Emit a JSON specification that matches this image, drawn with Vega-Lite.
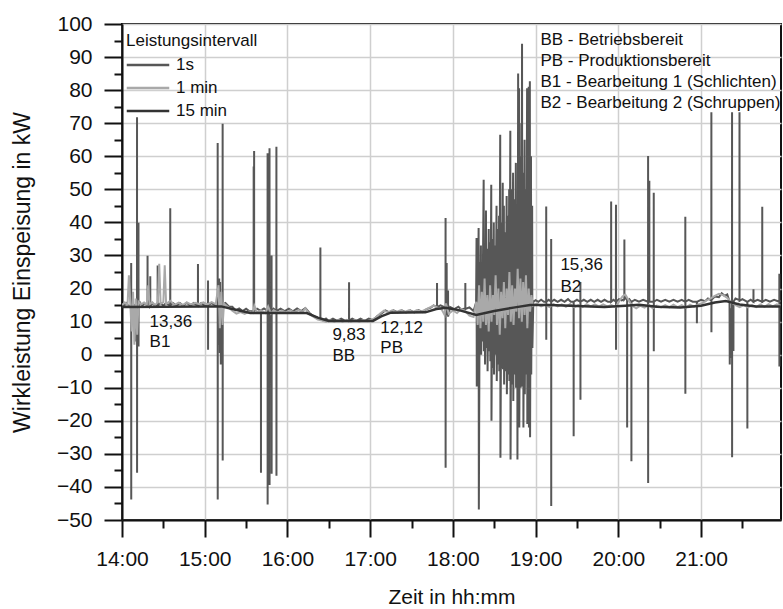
{
  "$schema": "https://vega.github.io/schema/vega-lite/v6.json",
  "width": 659,
  "height": 496,
  "autosize": {"type": "none"},
  "padding": {"left": 122, "top": 24, "right": 2, "bottom": 89},
  "background": "white",
  "config": {
    "font": "Liberation Sans",
    "view": {"stroke": "#111111", "strokeWidth": 2}
  },
  "resolve": {"axis": {"x": "independent", "y": "independent"}},
  "layer": [
    {
      "data": {
        "format": {"parse": {"t": "utc:'%H:%M:%S'"}},
        "values": [
          {"t":"14:00:00","v":15.2},{"t":"14:01:30","v":14.7},{"t":"14:03:00","v":15.6},{"t":"14:04:30","v":14.8},
          {"t":"14:06:38","v":14.8},{"t":"14:06:40","v":27.7},{"t":"14:06:42","v":-43.8},{"t":"14:06:44","v":15.0},
          {"t":"14:07:40","v":15.8},{"t":"14:08:30","v":14.7},{"t":"14:09:20","v":14.8},{"t":"14:09:22","v":4.0},{"t":"14:09:24","v":15.0},
          {"t":"14:10:52","v":14.8},{"t":"14:10:54","v":71.8},{"t":"14:10:56","v":-35.7},{"t":"14:10:58","v":15.2},
          {"t":"14:11:56","v":15.0},{"t":"14:11:58","v":39.9},{"t":"14:12:00","v":2.5},{"t":"14:12:02","v":14.8},
          {"t":"14:13:10","v":15.7},{"t":"14:14:40","v":14.8},{"t":"14:16:10","v":15.6},
          {"t":"14:18:30","v":14.8},{"t":"14:18:32","v":29.9},{"t":"14:18:34","v":14.9},{"t":"14:19:30","v":15.8},
          {"t":"14:20:28","v":14.8},{"t":"14:20:30","v":23.7},{"t":"14:20:32","v":14.7},{"t":"14:22:00","v":15.6},{"t":"14:24:00","v":14.8},
          {"t":"14:25:50","v":14.9},{"t":"14:25:52","v":27.0},{"t":"14:25:54","v":14.8},{"t":"14:28:00","v":15.6},{"t":"14:30:00","v":14.8},{"t":"14:32:00","v":15.6},
          {"t":"14:34:58","v":14.8},{"t":"14:35:00","v":44.3},{"t":"14:35:02","v":14.9},{"t":"14:37:00","v":15.6},{"t":"14:39:30","v":14.8},
          {"t":"14:42:00","v":15.6},{"t":"14:44:30","v":14.8},{"t":"14:47:00","v":15.7},{"t":"14:49:30","v":14.8},{"t":"14:52:00","v":15.6},
          {"t":"14:55:04","v":14.8},{"t":"14:55:06","v":27.4},{"t":"14:55:08","v":14.9},{"t":"14:57:30","v":15.6},{"t":"15:00:00","v":14.8},
          {"t":"15:02:22","v":14.8},{"t":"15:02:24","v":22.4},{"t":"15:02:26","v":1.5},{"t":"15:02:28","v":15.0},{"t":"15:05:00","v":15.6},{"t":"15:07:30","v":14.9},
          {"t":"15:09:22","v":14.8},{"t":"15:09:24","v":64.0},{"t":"15:09:26","v":-43.8},{"t":"15:09:28","v":15.0},
          {"t":"15:10:30","v":23.0},{"t":"15:10:40","v":3.0},{"t":"15:10:50","v":20.0},{"t":"15:11:00","v":0.5},{"t":"15:11:10","v":22.0},{"t":"15:11:20","v":5.0},{"t":"15:11:30","v":18.0},{"t":"15:11:40","v":-3.0},{"t":"15:11:50","v":15.0},
          {"t":"15:12:58","v":14.8},{"t":"15:13:00","v":69.8},{"t":"15:13:02","v":-32.0},{"t":"15:13:04","v":15.2},
          {"t":"15:15:00","v":15.6},{"t":"15:17:30","v":14.6},{"t":"15:20:00","v":14.5},{"t":"15:22:30","v":13.4},{"t":"15:25:00","v":14.0},{"t":"15:27:30","v":13.2},{"t":"15:30:00","v":13.9},{"t":"15:32:30","v":13.1},
          {"t":"15:35:28","v":13.2},{"t":"15:35:30","v":56.9},{"t":"15:35:34","v":13.4},{"t":"15:35:48","v":13.2},{"t":"15:35:50","v":61.6},{"t":"15:35:52","v":13.2},
          {"t":"15:38:00","v":13.9},{"t":"15:40:46","v":13.2},{"t":"15:40:48","v":-35.7},{"t":"15:40:50","v":13.4},{"t":"15:43:00","v":14.0},
          {"t":"15:45:34","v":13.2},{"t":"15:45:36","v":60.9},{"t":"15:45:38","v":-45.3},{"t":"15:45:40","v":13.2},
          {"t":"15:46:58","v":13.2},{"t":"15:47:00","v":62.4},{"t":"15:47:02","v":-39.4},{"t":"15:47:04","v":13.4},
          {"t":"15:48:28","v":13.2},{"t":"15:48:30","v":30.0},{"t":"15:48:32","v":-36.0},{"t":"15:48:34","v":13.0},{"t":"15:50:00","v":13.9},
          {"t":"15:51:58","v":13.2},{"t":"15:52:00","v":62.9},{"t":"15:52:02","v":-36.6},{"t":"15:52:04","v":13.2},
          {"t":"15:55:00","v":13.9},{"t":"15:58:00","v":13.2},{"t":"16:01:00","v":13.9},{"t":"16:04:00","v":13.1},{"t":"16:07:00","v":14.0},{"t":"16:10:00","v":13.2},{"t":"16:13:00","v":14.1},
          {"t":"16:16:00","v":12.6},{"t":"16:19:00","v":11.6},{"t":"16:22:00","v":11.2},{"t":"16:23:52","v":11.0},{"t":"16:23:54","v":32.4},{"t":"16:23:56","v":10.8},
          {"t":"16:26:00","v":10.3},{"t":"16:28:00","v":10.9},{"t":"16:30:00","v":10.2},{"t":"16:33:00","v":10.9},{"t":"16:36:00","v":10.2},{"t":"16:39:00","v":10.9},{"t":"16:42:00","v":10.2},
          {"t":"16:44:40","v":10.3},{"t":"16:44:42","v":21.9},{"t":"16:44:44","v":10.3},{"t":"16:47:00","v":10.9},{"t":"16:50:00","v":10.2},{"t":"16:53:00","v":10.9},{"t":"16:56:00","v":10.2},{"t":"16:59:00","v":10.9},
          {"t":"17:02:00","v":10.4},{"t":"17:05:00","v":11.6},{"t":"17:08:00","v":12.4},{"t":"17:11:00","v":13.4},{"t":"17:14:00","v":12.8},{"t":"17:17:00","v":13.4},{"t":"17:20:00","v":12.8},{"t":"17:23:00","v":13.4},{"t":"17:26:00","v":12.8},{"t":"17:29:00","v":13.4},{"t":"17:32:00","v":12.8},{"t":"17:35:00","v":13.5},{"t":"17:38:00","v":12.9},{"t":"17:41:00","v":13.8},{"t":"17:44:00","v":14.2},{"t":"17:46:00","v":14.9},
          {"t":"17:48:28","v":14.4},{"t":"17:48:30","v":21.7},{"t":"17:48:32","v":14.4},{"t":"17:51:00","v":14.9},
          {"t":"17:54:40","v":14.2},{"t":"17:54:42","v":41.3},{"t":"17:54:44","v":-34.2},{"t":"17:54:46","v":14.4},
          {"t":"17:55:28","v":14.2},{"t":"17:55:30","v":27.7},{"t":"17:55:32","v":12.0},{"t":"17:56:28","v":13.5},{"t":"17:56:30","v":19.4},{"t":"17:56:32","v":11.5},
          {"t":"17:58:00","v":14.4},{"t":"18:01:00","v":13.8},{"t":"18:04:00","v":14.5},{"t":"18:06:00","v":13.7},{"t":"18:09:00","v":14.0},{"t":"18:09:02","v":21.7},{"t":"18:09:04","v":13.8},{"t":"18:12:00","v":14.3},{"t":"18:15:00","v":13.2},{"t":"18:16:50","v":15.8},
          {"t":"18:17:10","v":35.3},{"t":"18:17:20","v":-9.6},{"t":"18:17:50","v":30.0},{"t":"18:18:00","v":2.0},{"t":"18:18:40","v":38.3},{"t":"18:18:50","v":-46.8},
          {"t":"18:19:30","v":28.0},{"t":"18:19:40","v":3.0},{"t":"18:20:20","v":33.0},{"t":"18:20:30","v":0.0},{"t":"18:21:10","v":25.0},{"t":"18:21:20","v":4.0},
          {"t":"18:22:20","v":52.9},{"t":"18:22:30","v":1.0},{"t":"18:23:10","v":30.0},{"t":"18:23:20","v":-3.0},{"t":"18:24:00","v":43.6},{"t":"18:24:10","v":2.0},
          {"t":"18:25:00","v":32.0},{"t":"18:25:10","v":-5.0},{"t":"18:26:00","v":38.0},{"t":"18:26:10","v":1.0},{"t":"18:27:00","v":34.0},{"t":"18:27:10","v":-2.0},
          {"t":"18:27:50","v":51.4},{"t":"18:28:00","v":-20.0},{"t":"18:28:40","v":35.0},{"t":"18:28:50","v":-4.0},{"t":"18:29:40","v":40.0},{"t":"18:29:50","v":-6.0},
          {"t":"18:30:40","v":33.0},{"t":"18:30:50","v":0.0},{"t":"18:31:40","v":45.0},{"t":"18:31:50","v":-8.0},{"t":"18:32:40","v":38.0},{"t":"18:32:50","v":-3.0},
          {"t":"18:33:30","v":42.0},{"t":"18:33:40","v":-5.0},{"t":"18:34:20","v":66.5},{"t":"18:34:30","v":-31.2},{"t":"18:35:20","v":40.0},{"t":"18:35:30","v":-4.0},
          {"t":"18:36:10","v":52.0},{"t":"18:36:20","v":-4.4},{"t":"18:37:00","v":45.0},{"t":"18:37:10","v":-9.0},{"t":"18:38:00","v":37.0},{"t":"18:38:10","v":-5.0},
          {"t":"18:39:00","v":48.0},{"t":"18:39:10","v":-12.0},{"t":"18:40:00","v":42.0},{"t":"18:40:10","v":-6.0},{"t":"18:40:50","v":50.0},{"t":"18:41:00","v":-8.0},
          {"t":"18:41:40","v":67.7},{"t":"18:41:50","v":-31.7},{"t":"18:42:40","v":50.0},{"t":"18:42:50","v":-9.0},{"t":"18:43:40","v":55.0},{"t":"18:43:50","v":-14.0},
          {"t":"18:44:40","v":47.0},{"t":"18:44:50","v":-6.0},{"t":"18:45:40","v":58.0},{"t":"18:45:50","v":-10.0},{"t":"18:46:40","v":45.0},{"t":"18:46:50","v":-31.7},
          {"t":"18:47:20","v":85.0},{"t":"18:47:30","v":-8.0},{"t":"18:48:00","v":80.6},{"t":"18:48:10","v":-22.0},{"t":"18:49:00","v":60.0},{"t":"18:49:10","v":-10.0},
          {"t":"18:49:40","v":70.0},{"t":"18:49:50","v":-4.0},{"t":"18:50:10","v":94.0},{"t":"18:50:20","v":-9.6},{"t":"18:51:00","v":55.0},{"t":"18:51:10","v":-22.0},
          {"t":"18:52:00","v":65.0},{"t":"18:52:10","v":-12.0},{"t":"18:53:00","v":50.0},{"t":"18:53:10","v":-6.0},{"t":"18:53:50","v":80.6},{"t":"18:54:00","v":-21.0},
          {"t":"18:54:30","v":58.0},{"t":"18:54:40","v":-9.0},{"t":"18:55:00","v":81.0},{"t":"18:55:10","v":-22.0},{"t":"18:55:50","v":82.7},{"t":"18:56:00","v":-25.0},
          {"t":"18:56:40","v":60.0},{"t":"18:56:50","v":-6.0},{"t":"18:57:30","v":45.0},{"t":"18:57:40","v":2.0},{"t":"18:58:20","v":16.0},
          {"t":"19:00:00","v":16.5},{"t":"19:02:00","v":16.0},{"t":"19:04:00","v":16.6},{"t":"19:06:00","v":16.0},
          {"t":"19:07:40","v":16.0},{"t":"19:07:42","v":44.8},{"t":"19:07:44","v":4.5},{"t":"19:07:46","v":16.0},{"t":"19:09:30","v":16.6},
          {"t":"19:11:16","v":16.0},{"t":"19:11:18","v":35.0},{"t":"19:11:20","v":-45.8},{"t":"19:11:22","v":16.0},
          {"t":"19:13:30","v":16.6},{"t":"19:16:00","v":16.0},{"t":"19:18:30","v":16.6},{"t":"19:21:00","v":16.0},{"t":"19:23:30","v":16.8},{"t":"19:25:30","v":16.0},
          {"t":"19:27:34","v":16.0},{"t":"19:27:36","v":-24.7},{"t":"19:27:38","v":16.0},{"t":"19:30:00","v":16.6},
          {"t":"19:32:28","v":16.0},{"t":"19:32:30","v":22.0},{"t":"19:32:32","v":-13.6},{"t":"19:32:34","v":16.0},
          {"t":"19:35:00","v":16.6},{"t":"19:37:30","v":16.0},{"t":"19:40:00","v":16.6},{"t":"19:42:30","v":16.0},{"t":"19:45:00","v":16.6},{"t":"19:47:30","v":16.0},{"t":"19:50:00","v":16.6},{"t":"19:52:30","v":16.0},
          {"t":"19:54:46","v":16.0},{"t":"19:54:48","v":46.3},{"t":"19:54:50","v":16.0},{"t":"19:56:30","v":16.6},
          {"t":"19:58:16","v":16.0},{"t":"19:58:18","v":45.3},{"t":"19:58:20","v":1.5},{"t":"19:58:22","v":16.0},
          {"t":"20:00:30","v":16.8},{"t":"20:02:30","v":16.4},{"t":"20:04:22","v":16.8},{"t":"20:04:24","v":34.8},{"t":"20:04:26","v":16.8},{"t":"20:05:30","v":17.4},
          {"t":"20:06:22","v":16.4},{"t":"20:06:24","v":-22.0},{"t":"20:06:26","v":16.2},{"t":"20:08:00","v":16.8},
          {"t":"20:09:28","v":16.0},{"t":"20:09:30","v":-32.2},{"t":"20:09:32","v":16.0},{"t":"20:12:00","v":16.6},{"t":"20:15:00","v":16.0},{"t":"20:18:00","v":16.6},
          {"t":"20:21:34","v":16.0},{"t":"20:21:36","v":60.1},{"t":"20:21:38","v":-38.8},{"t":"20:21:40","v":16.0},
          {"t":"20:22:28","v":16.0},{"t":"20:22:30","v":52.6},{"t":"20:22:32","v":16.0},
          {"t":"20:25:40","v":16.0},{"t":"20:25:42","v":49.0},{"t":"20:25:44","v":1.0},{"t":"20:25:46","v":16.0},
          {"t":"20:28:00","v":16.6},{"t":"20:31:00","v":16.0},{"t":"20:34:00","v":16.6},{"t":"20:37:00","v":16.0},{"t":"20:40:00","v":16.6},{"t":"20:43:00","v":16.0},{"t":"20:46:00","v":16.6},
          {"t":"20:48:34","v":16.0},{"t":"20:48:36","v":41.7},{"t":"20:48:38","v":-11.8},{"t":"20:48:40","v":16.0},
          {"t":"20:51:00","v":16.6},{"t":"20:54:00","v":16.0},{"t":"20:56:58","v":16.0},{"t":"20:57:00","v":9.5},{"t":"20:57:02","v":16.0},
          {"t":"21:00:00","v":16.6},{"t":"21:03:00","v":16.2},{"t":"21:05:00","v":17.0},
          {"t":"21:07:28","v":16.4},{"t":"21:07:30","v":73.3},{"t":"21:07:32","v":6.8},{"t":"21:07:34","v":16.6},
          {"t":"21:10:00","v":17.6},{"t":"21:13:00","v":17.4},{"t":"21:15:00","v":18.6},{"t":"21:17:00","v":17.8},{"t":"21:19:00","v":18.2},
          {"t":"21:20:40","v":16.0},{"t":"21:20:50","v":-3.0},{"t":"21:21:00","v":14.0},{"t":"21:21:10","v":-1.0},{"t":"21:21:20","v":12.0},{"t":"21:21:30","v":2.0},
          {"t":"21:22:28","v":16.0},{"t":"21:22:30","v":73.3},{"t":"21:22:32","v":-31.0},{"t":"21:22:34","v":16.0},
          {"t":"21:23:28","v":16.0},{"t":"21:23:30","v":1.1},{"t":"21:23:32","v":16.0},{"t":"21:25:00","v":17.0},
          {"t":"21:27:52","v":16.5},{"t":"21:27:54","v":73.3},{"t":"21:27:56","v":16.3},{"t":"21:30:00","v":16.8},
          {"t":"21:33:34","v":16.0},{"t":"21:33:36","v":-22.3},{"t":"21:33:38","v":16.0},{"t":"21:36:00","v":16.6},
          {"t":"21:38:00","v":16.0},{"t":"21:38:02","v":19.8},{"t":"21:38:04","v":16.0},{"t":"21:41:00","v":16.6},
          {"t":"21:44:22","v":16.0},{"t":"21:44:24","v":44.7},{"t":"21:44:26","v":16.0},{"t":"21:47:00","v":16.6},{"t":"21:50:00","v":16.0},{"t":"21:53:00","v":16.6},
          {"t":"21:56:46","v":16.0},{"t":"21:56:48","v":24.5},{"t":"21:56:50","v":-3.6},{"t":"21:56:52","v":16.0},{"t":"21:58:00","v":16.4}
        ]
      },
      "mark": {"type": "line", "strokeWidth": 2, "clip": true},
      "encoding": {
        "x": {
          "field": "t", "type": "temporal",
          "scale": {"type": "utc", "nice": false, "domain": [{"year": 1900, "month": 1, "date": 1, "hours": 14, "minutes": 0, "utc": true}, {"year": 1900, "month": 1, "date": 1, "hours": 21, "minutes": 58, "utc": true}]},
          "axis": {
            "orient": "bottom",
            "values": [
              {"year": 1900, "month": 1, "date": 1, "hours": 14, "utc": true},
              {"year": 1900, "month": 1, "date": 1, "hours": 15, "utc": true},
              {"year": 1900, "month": 1, "date": 1, "hours": 16, "utc": true},
              {"year": 1900, "month": 1, "date": 1, "hours": 17, "utc": true},
              {"year": 1900, "month": 1, "date": 1, "hours": 18, "utc": true},
              {"year": 1900, "month": 1, "date": 1, "hours": 19, "utc": true},
              {"year": 1900, "month": 1, "date": 1, "hours": 20, "utc": true},
              {"year": 1900, "month": 1, "date": 1, "hours": 21, "utc": true}
            ],
            "format": "%H:%M",
            "title": "Zeit in hh:mm",
            "titleFontSize": 21, "titleFontWeight": "normal", "titleColor": "#111111", "titlePadding": 17,
            "labelFontSize": 21, "labelColor": "#111111", "labelPadding": 11, "labelFlush": false,
            "tickSize": 17, "tickWidth": 2, "tickColor": "#111111",
            "domainColor": "#111111", "domainWidth": 2,
            "grid": true, "gridColor": "#cfcfcf", "gridWidth": 1.5
          }
        },
        "y": {
          "field": "v", "type": "quantitative",
          "scale": {"domain": [-50, 100], "nice": false, "zero": false},
          "axis": {
            "orient": "left",
            "values": [-50, -40, -30, -20, -10, 0, 10, 20, 30, 40, 50, 60, 70, 80, 90, 100],
            "title": "Wirkleistung Einspeisung in kW",
            "titleFontSize": 23, "titleFontWeight": "normal", "titleColor": "#111111", "titlePadding": 22,
            "labelFontSize": 21, "labelColor": "#111111", "labelPadding": 12,
            "tickSize": 18, "tickWidth": 2, "tickColor": "#111111",
            "domainColor": "#111111", "domainWidth": 2,
            "grid": true, "gridColor": "#cfcfcf", "gridWidth": 1.5
          }
        },
        "color": {
          "datum": "1s", "type": "nominal",
          "scale": {"domain": ["1s", "1 min", "15 min"], "range": ["#575757", "#a9a9a9", "#333333"]},
          "legend": {
            "orient": "none", "legendX": 4, "legendY": 9, "direction": "vertical",
            "padding": 0, "offset": 0,
            "title": "Leistungsintervall",
            "titleFontSize": 17, "titleFontWeight": "normal", "titleColor": "#111111", "titlePadding": 5,
            "labelFontSize": 17, "labelColor": "#111111", "labelOffset": 18,
            "symbolType": "M-2.5,0H2.5", "symbolSize": 289, "symbolStrokeWidth": 2.5, "symbolOffset": 12,
            "rowPadding": 5
          }
        }
      }
    },
    {
      "data": {
        "format": {"parse": {"t": "utc:'%H:%M:%S'"}},
        "values": [
          {"t":"14:00:00","v":15.0},{"t":"14:02:00","v":15.8},{"t":"14:04:00","v":14.9},{"t":"14:05:00","v":24.0},{"t":"14:06:00","v":15.5},{"t":"14:07:00","v":7.0},{"t":"14:08:00","v":19.0},{"t":"14:09:00","v":3.0},{"t":"14:10:00","v":17.0},{"t":"14:11:00","v":6.0},{"t":"14:12:00","v":16.0},
          {"t":"14:14:00","v":15.2},{"t":"14:16:00","v":15.8},{"t":"14:18:00","v":15.1},{"t":"14:19:00","v":21.0},{"t":"14:20:00","v":15.2},{"t":"14:22:00","v":15.8},{"t":"14:24:00","v":15.0},{"t":"14:26:00","v":15.9},{"t":"14:27:00","v":27.5},{"t":"14:28:00","v":15.4},{"t":"14:30:00","v":15.9},{"t":"14:31:00","v":27.0},{"t":"14:32:00","v":15.3},
          {"t":"14:35:00","v":16.3},{"t":"14:38:00","v":15.0},{"t":"14:41:00","v":15.7},{"t":"14:44:00","v":15.0},{"t":"14:47:00","v":15.8},{"t":"14:50:00","v":15.2},{"t":"14:53:00","v":15.7},{"t":"14:56:00","v":15.3},{"t":"14:59:00","v":15.8},{"t":"15:02:00","v":15.2},{"t":"15:05:00","v":15.9},{"t":"15:08:00","v":15.3},
          {"t":"15:10:00","v":21.0},{"t":"15:11:00","v":8.0},{"t":"15:12:00","v":19.0},{"t":"15:13:00","v":9.0},{"t":"15:14:00","v":15.4},{"t":"15:17:00","v":14.4},{"t":"15:20:00","v":13.3},{"t":"15:23:00","v":12.4},{"t":"15:26:00","v":12.9},{"t":"15:29:00","v":12.3},{"t":"15:32:00","v":13.0},{"t":"15:35:00","v":12.6},{"t":"15:36:00","v":14.8},{"t":"15:38:00","v":12.8},
          {"t":"15:41:00","v":13.4},{"t":"15:44:00","v":12.6},{"t":"15:46:00","v":14.6},{"t":"15:48:00","v":12.4},{"t":"15:50:00","v":13.4},{"t":"15:53:00","v":12.7},{"t":"15:56:00","v":13.3},{"t":"15:59:00","v":12.7},{"t":"16:02:00","v":13.4},{"t":"16:05:00","v":12.8},{"t":"16:08:00","v":13.5},{"t":"16:11:00","v":13.0},{"t":"16:13:00","v":14.0},
          {"t":"16:16:00","v":12.2},{"t":"16:19:00","v":11.4},{"t":"16:22:00","v":10.6},{"t":"16:25:00","v":10.3},{"t":"16:28:00","v":9.9},{"t":"16:31:00","v":10.4},{"t":"16:34:00","v":10.0},{"t":"16:37:00","v":10.5},{"t":"16:40:00","v":10.0},{"t":"16:43:00","v":10.5},{"t":"16:46:00","v":10.0},{"t":"16:49:00","v":10.5},{"t":"16:52:00","v":10.0},{"t":"16:55:00","v":10.5},{"t":"16:58:00","v":10.1},
          {"t":"17:01:00","v":10.6},{"t":"17:04:00","v":11.2},{"t":"17:07:00","v":12.4},{"t":"17:10:00","v":13.3},{"t":"17:13:00","v":12.8},{"t":"17:16:00","v":13.4},{"t":"17:19:00","v":12.9},{"t":"17:22:00","v":13.4},{"t":"17:25:00","v":12.9},{"t":"17:28:00","v":13.4},{"t":"17:31:00","v":12.9},{"t":"17:34:00","v":13.5},{"t":"17:37:00","v":13.0},{"t":"17:40:00","v":13.6},
          {"t":"17:43:00","v":14.2},{"t":"17:46:00","v":14.8},{"t":"17:49:00","v":14.2},{"t":"17:52:00","v":13.6},{"t":"17:54:00","v":12.0},{"t":"17:55:00","v":15.5},{"t":"17:57:00","v":12.4},{"t":"18:00:00","v":13.4},{"t":"18:03:00","v":12.6},{"t":"18:06:00","v":13.8},{"t":"18:09:00","v":13.2},{"t":"18:12:00","v":11.8},{"t":"18:15:00","v":11.4},
          {"t":"18:17:00","v":16.0},{"t":"18:18:00","v":9.0},{"t":"18:19:00","v":21.0},{"t":"18:20:00","v":8.0},{"t":"18:21:00","v":19.0},{"t":"18:22:00","v":10.0},{"t":"18:23:00","v":23.0},{"t":"18:24:00","v":9.0},{"t":"18:25:00","v":18.0},{"t":"18:26:00","v":7.0},{"t":"18:27:00","v":21.0},{"t":"18:28:00","v":10.0},{"t":"18:29:00","v":18.0},{"t":"18:30:00","v":12.0},
          {"t":"18:31:00","v":24.0},{"t":"18:32:00","v":9.0},{"t":"18:33:00","v":20.0},{"t":"18:34:00","v":6.0},{"t":"18:35:00","v":19.0},{"t":"18:36:00","v":11.0},{"t":"18:37:00","v":22.0},{"t":"18:38:00","v":8.0},{"t":"18:39:00","v":20.0},{"t":"18:40:00","v":12.0},{"t":"18:41:00","v":25.0},{"t":"18:42:00","v":10.0},{"t":"18:43:00","v":21.0},{"t":"18:44:00","v":9.0},
          {"t":"18:45:00","v":20.0},{"t":"18:46:00","v":13.0},{"t":"18:47:00","v":26.0},{"t":"18:48:00","v":11.0},{"t":"18:49:00","v":23.0},{"t":"18:50:00","v":10.0},{"t":"18:51:00","v":22.0},{"t":"18:52:00","v":12.0},{"t":"18:53:00","v":24.0},{"t":"18:54:00","v":8.0},{"t":"18:55:00","v":20.0},{"t":"18:56:00","v":13.0},{"t":"18:57:00","v":18.0},{"t":"18:58:00","v":14.8},
          {"t":"19:01:00","v":15.4},{"t":"19:04:00","v":14.6},{"t":"19:07:00","v":15.2},{"t":"19:10:00","v":14.4},{"t":"19:13:00","v":15.3},{"t":"19:16:00","v":14.6},{"t":"19:19:00","v":15.2},{"t":"19:22:00","v":14.5},{"t":"19:25:00","v":15.3},{"t":"19:28:00","v":14.3},{"t":"19:31:00","v":15.0},{"t":"19:34:00","v":14.4},{"t":"19:37:00","v":15.3},{"t":"19:40:00","v":14.6},
          {"t":"19:43:00","v":15.2},{"t":"19:46:00","v":14.5},{"t":"19:49:00","v":15.2},{"t":"19:52:00","v":14.6},{"t":"19:55:00","v":15.0},{"t":"19:58:00","v":14.4},{"t":"20:01:00","v":16.4},{"t":"20:03:00","v":17.6},{"t":"20:05:00","v":18.2},{"t":"20:07:00","v":16.8},{"t":"20:10:00","v":14.8},{"t":"20:13:00","v":14.0},{"t":"20:16:00","v":14.8},{"t":"20:19:00","v":14.2},
          {"t":"20:22:00","v":15.0},{"t":"20:25:00","v":14.0},{"t":"20:28:00","v":14.8},{"t":"20:31:00","v":14.3},{"t":"20:34:00","v":15.0},{"t":"20:37:00","v":14.3},{"t":"20:40:00","v":15.1},{"t":"20:43:00","v":14.4},{"t":"20:46:00","v":15.0},{"t":"20:49:00","v":14.2},{"t":"20:52:00","v":15.1},{"t":"20:55:00","v":14.5},{"t":"20:58:00","v":15.2},
          {"t":"21:01:00","v":15.6},{"t":"21:04:00","v":16.4},{"t":"21:07:00","v":17.0},{"t":"21:10:00","v":17.8},{"t":"21:13:00","v":18.4},{"t":"21:16:00","v":18.0},{"t":"21:19:00","v":17.2},{"t":"21:22:00","v":15.8},{"t":"21:25:00","v":15.0},{"t":"21:28:00","v":14.4},{"t":"21:31:00","v":15.0},{"t":"21:34:00","v":14.3},{"t":"21:37:00","v":15.0},
          {"t":"21:40:00","v":14.4},{"t":"21:43:00","v":15.2},{"t":"21:46:00","v":14.5},{"t":"21:49:00","v":15.3},{"t":"21:52:00","v":14.6},{"t":"21:55:00","v":15.2},{"t":"21:58:00","v":14.8}
        ]
      },
      "mark": {"type": "line", "strokeWidth": 2, "clip": true},
      "encoding": {
        "x": {"field": "t", "type": "temporal", "axis": null},
        "y": {"field": "v", "type": "quantitative", "axis": null},
        "color": {"datum": "1 min", "type": "nominal"}
      }
    },
    {
      "data": {
        "format": {"parse": {"t": "utc:'%H:%M:%S'"}},
        "values": [
          {"t":"14:00:00","v":14.4},{"t":"14:30:00","v":14.5},{"t":"15:00:00","v":14.6},{"t":"15:12:00","v":14.6},{"t":"15:20:00","v":13.8},{"t":"15:33:00","v":12.6},{"t":"16:14:00","v":12.6},{"t":"16:22:00","v":11.2},{"t":"16:30:00","v":10.2},
          {"t":"17:02:00","v":10.2},{"t":"17:08:00","v":11.6},{"t":"17:15:00","v":12.7},{"t":"17:40:00","v":12.8},{"t":"17:48:00","v":13.8},{"t":"17:55:00","v":14.2},{"t":"18:05:00","v":13.4},{"t":"18:17:00","v":12.0},{"t":"18:30:00","v":13.2},{"t":"18:45:00","v":14.3},{"t":"18:56:00","v":15.0},
          {"t":"19:10:00","v":15.0},{"t":"19:30:00","v":14.7},{"t":"19:50:00","v":14.4},{"t":"20:05:00","v":14.8},{"t":"20:15:00","v":15.1},{"t":"20:28:00","v":14.5},{"t":"20:45:00","v":14.3},{"t":"21:00:00","v":14.8},{"t":"21:10:00","v":15.8},{"t":"21:18:00","v":16.2},{"t":"21:28:00","v":15.2},{"t":"21:40:00","v":14.6},{"t":"21:58:00","v":14.6}
        ]
      },
      "mark": {"type": "line", "strokeWidth": 2.5, "clip": true},
      "encoding": {
        "x": {"field": "t", "type": "temporal", "axis": null},
        "y": {"field": "v", "type": "quantitative", "axis": null},
        "color": {"datum": "15 min", "type": "nominal"}
      }
    },
    {
      "data": {
        "format": {"parse": {"t": "utc:'%H:%M:%S'"}},
        "values": [
          {"t":"14:20:00","v":8.4,"label":"13,36"},
          {"t":"14:20:00","v":2.3,"label":"B1"},
          {"t":"16:32:36","v":4.3,"label":"9,83"},
          {"t":"16:32:36","v":-2.0,"label":"BB"},
          {"t":"17:07:24","v":6.5,"label":"12,12"},
          {"t":"17:07:24","v":0.5,"label":"PB"},
          {"t":"19:18:00","v":25.5,"label":"15,36"},
          {"t":"19:18:00","v":19.1,"label":"B2"},
          {"t":"19:03:30","v":93.7,"label":"BB - Betriebsbereit"},
          {"t":"19:03:30","v":87.3,"label":"PB - Produktionsbereit"},
          {"t":"19:03:30","v":80.9,"label":"B1 - Bearbeitung 1 (Schlichten)"},
          {"t":"19:03:30","v":74.6,"label":"B2 - Bearbeitung 2 (Schruppen)"}
        ]
      },
      "mark": {"type": "text", "align": "left", "baseline": "alphabetic", "fontSize": 17, "color": "#111111"},
      "encoding": {
        "x": {
          "field": "t", "type": "temporal",
          "axis": {
            "orient": "bottom", "title": null, "labels": false, "grid": false, "domain": false,
            "tickSize": 8, "tickWidth": 2, "tickColor": "#111111",
            "values": [
              {"year": 1900, "month": 1, "date": 1, "hours": 14, "minutes": 30, "utc": true},
              {"year": 1900, "month": 1, "date": 1, "hours": 15, "minutes": 30, "utc": true},
              {"year": 1900, "month": 1, "date": 1, "hours": 16, "minutes": 30, "utc": true},
              {"year": 1900, "month": 1, "date": 1, "hours": 17, "minutes": 30, "utc": true},
              {"year": 1900, "month": 1, "date": 1, "hours": 18, "minutes": 30, "utc": true},
              {"year": 1900, "month": 1, "date": 1, "hours": 19, "minutes": 30, "utc": true},
              {"year": 1900, "month": 1, "date": 1, "hours": 20, "minutes": 30, "utc": true},
              {"year": 1900, "month": 1, "date": 1, "hours": 21, "minutes": 30, "utc": true}
            ]
          }
        },
        "y": {
          "field": "v", "type": "quantitative",
          "axis": {
            "orient": "left", "title": null, "labels": false, "grid": false, "domain": false,
            "tickSize": 8, "tickWidth": 2, "tickColor": "#111111",
            "values": [-45, -35, -25, -15, -5, 5, 15, 25, 35, 45, 55, 65, 75, 85, 95]
          }
        },
        "text": {"field": "label", "type": "nominal"}
      }
    }
  ]
}
